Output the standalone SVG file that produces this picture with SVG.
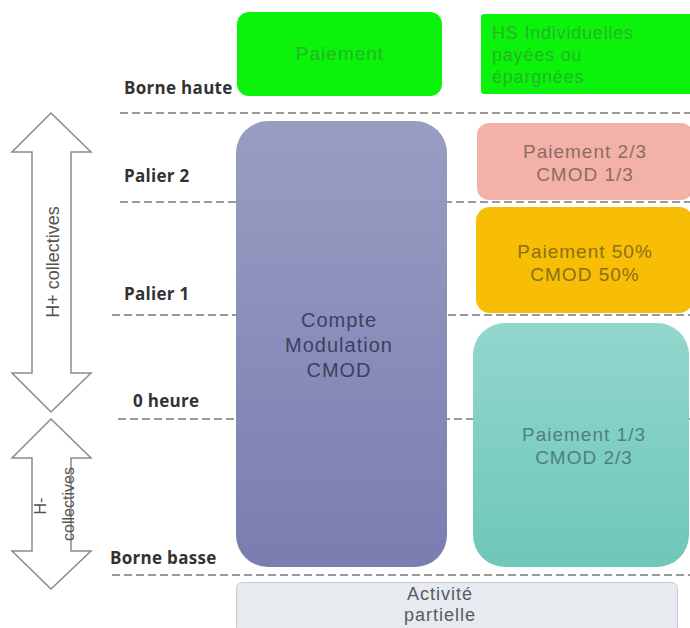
<svg xmlns="http://www.w3.org/2000/svg" width="690" height="628" viewBox="0 0 690 628">
<defs>
<linearGradient id="gCmod" x1="0" y1="0" x2="0" y2="1"><stop offset="0" stop-color="#9a9dc2"/><stop offset="1" stop-color="#7a7db0"/></linearGradient>
<linearGradient id="gTeal" x1="0" y1="0" x2="0" y2="1"><stop offset="0" stop-color="#93d6cc"/><stop offset="1" stop-color="#6ec7ba"/></linearGradient>
<style>
.lvl{font-family:"Open Sans","Liberation Sans",sans-serif;font-weight:bold;font-size:17px;letter-spacing:0.3px;fill:#333}
.dash{stroke:#7a7a7a;stroke-width:1.5;stroke-dasharray:8 4;fill:none}
.t{font-family:"Liberation Sans",Arial,sans-serif;text-anchor:middle;letter-spacing:1px}
.arr{fill:#fff;stroke:#8a8a8a;stroke-width:1.5}
.arrt{font-family:"Liberation Sans",Arial,sans-serif;fill:#555;text-anchor:middle}
</style>
</defs>
<rect width="690" height="628" fill="#fff"/>
<g id="connectors">
<line class="dash" x1="120" y1="113" x2="690" y2="113"/>
<line class="dash" x1="120" y1="202" x2="690" y2="202"/>
<line class="dash" x1="112" y1="315" x2="690" y2="315"/>
<line class="dash" x1="118" y1="419" x2="690" y2="419"/>
<line class="dash" x1="112" y1="575" x2="690" y2="575"/>
</g>
<g id="levels">
<text class="lvl" x="124" y="94">Borne haute</text>
<text class="lvl" x="124" y="182">Palier 2</text>
<text class="lvl" x="124" y="300">Palier 1</text>
<text class="lvl" x="133" y="407">0 heure</text>
<text class="lvl" x="110" y="564">Borne basse</text>
</g>
<g id="arrow-hplus">
<polygon class="arr" points="51,113 91,152 71,152 71,373 91,373 51,412 12,373 32,373 32,152 12,152"/>
<text class="arrt" font-size="18" transform="translate(59,262) rotate(-90)">H+ collectives</text>
</g>
<g id="arrow-hminus">
<polygon class="arr" points="51,419 91,458 71,458 71,551 91,551 51,589 12,551 32,551 32,458 12,458"/>
<text class="arrt" font-size="16" transform="translate(46,506) rotate(-90)">H-</text>
<text class="arrt" font-size="16" transform="translate(74,504) rotate(-90)">collectives</text>
</g>
<g id="paiement">
<rect x="237" y="12" width="205" height="84" rx="12" fill="#0bf20b"/>
<text class="t" x="340" y="60" font-size="19" fill="#25b525" letter-spacing="0.5">Paiement</text>
</g>
<g id="hs">
<rect x="481" y="14" width="212" height="80" rx="3" fill="#0bf20b"/>
<text font-family="'Liberation Sans',Arial,sans-serif" font-size="18" letter-spacing="0.8" fill="#25b525"><tspan x="492" y="39">HS Individuelles</tspan><tspan x="492" y="61">payées ou</tspan><tspan x="492" y="83">épargnées</tspan></text>
</g>
<g id="cmod">
<rect x="236" y="121" width="211" height="446" rx="32" fill="url(#gCmod)"/>
<text class="t" font-size="20" fill="#3d4062"><tspan x="339" y="327">Compte</tspan><tspan x="339" y="352">Modulation</tspan><tspan x="339" y="377">CMOD</tspan></text>
</g>
<g id="palier2">
<rect x="477" y="123" width="216" height="77" rx="12" fill="#f3b2a8"/>
<text class="t" font-size="19" fill="#8e6a66"><tspan x="585" y="158">Paiement 2/3</tspan><tspan x="585" y="181">CMOD 1/3</tspan></text>
</g>
<g id="palier1">
<rect x="476" y="207" width="217" height="106" rx="14" fill="#f8be05"/>
<text class="t" font-size="19" fill="#8a6f18"><tspan x="585" y="258">Paiement 50%</tspan><tspan x="585" y="281">CMOD 50%</tspan></text>
</g>
<g id="palier0">
<rect x="473" y="323" width="216" height="244" rx="32" fill="url(#gTeal)"/>
<text class="t" font-size="19" fill="#4f807b"><tspan x="584" y="441">Paiement 1/3</tspan><tspan x="584" y="464">CMOD 2/3</tspan></text>
</g>
<g id="activite">
<rect x="236.5" y="582.5" width="441" height="50" rx="6" fill="#e7ebef" stroke="#c3cad2"/>
<text class="t" font-size="18" fill="#555c63"><tspan x="440" y="600">Activité</tspan><tspan x="440" y="621">partielle</tspan></text>
</g>
</svg>
